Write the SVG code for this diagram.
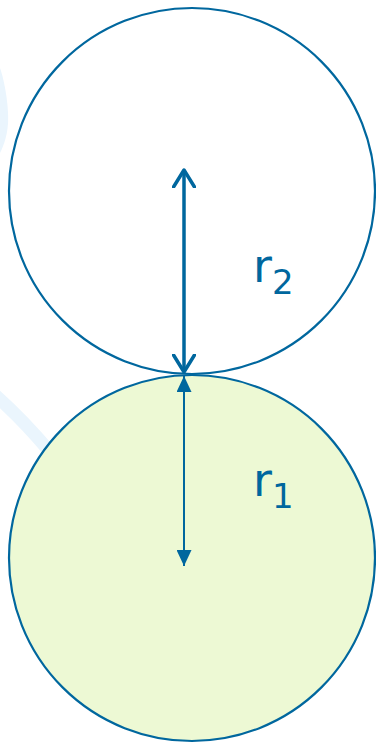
<svg xmlns="http://www.w3.org/2000/svg" width="376" height="744" viewBox="0 0 376 744">
  <defs>
    <style>
      .circ { stroke: #00679E; stroke-width: 2.2; }
      .lbl { font-family: "DejaVu Sans", Verdana, sans-serif; fill: #00679E; }
      .deco { fill: none; stroke: #EAF5FD; stroke-width: 13; }
    </style>
    <marker id="tri" viewBox="0 0 16 15" refX="16" refY="7.5" markerWidth="16" markerHeight="15" markerUnits="userSpaceOnUse" orient="auto">
      <path d="M0,0 L16,7.5 L0,15 Z" fill="#00679E"/>
    </marker>
    <marker id="chev" viewBox="0 0 20 24" refX="18" refY="12" markerWidth="20" markerHeight="24" markerUnits="userSpaceOnUse" orient="auto">
      <path d="M1,1.5 L18,12 L1,22.5" fill="none" stroke="#00679E" stroke-width="3.5" stroke-linecap="round" stroke-linejoin="round"/>
    </marker>
  </defs>
  <rect width="376" height="744" fill="#FFFFFF"/>
  <g id="background">
    <path d="M0,68 C5,82 9,108 8,124 C7,136 4,145 0,153 Z" fill="#EAF5FD"/>
    <path class="deco" d="M-6,394 C12,410 30,428 50,452"/>
  </g>
  <g id="circle2">
    <circle class="circ" cx="192" cy="191" r="183" fill="#FFFFFF"/>
  </g>
  <g id="circle1">
    <circle class="circ" cx="192" cy="558" r="183" fill="#EDF9D4"/>
  </g>
  <g id="connectors">
    <line x1="184" y1="190" x2="184" y2="170" stroke="#00679E" stroke-width="3.5" marker-end="url(#chev)"/>
    <line x1="184" y1="190" x2="184" y2="372" stroke="#00679E" stroke-width="3.5" marker-end="url(#chev)"/>
    <line x1="184" y1="470" x2="184" y2="376" stroke="#00679E" stroke-width="2" marker-end="url(#tri)"/>
    <line x1="184" y1="470" x2="184" y2="566" stroke="#00679E" stroke-width="2" marker-end="url(#tri)"/>
  </g>
  <g id="label-r2">
    <text class="lbl" x="253" y="282" font-size="46">r<tspan font-size="34" dy="12">2</tspan></text>
  </g>
  <g id="label-r1">
    <text class="lbl" x="253" y="496" font-size="46">r<tspan font-size="34" dy="12">1</tspan></text>
  </g>
</svg>
